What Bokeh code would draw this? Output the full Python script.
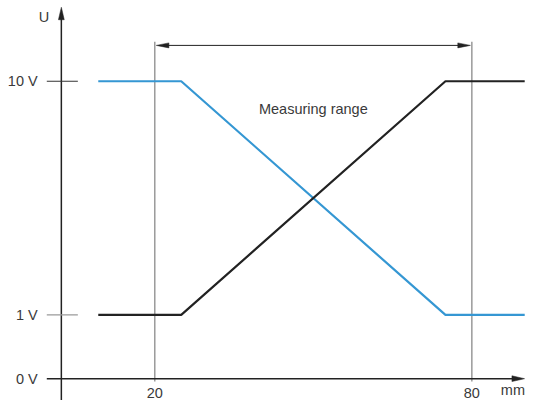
from bokeh.plotting import figure
from bokeh.models import Range1d
from bokeh.core.properties import value
from bokeh.embed import file_html
from bokeh.resources import INLINE

# ---- data ----
position_mm = [9.3, 25, 75, 90]
rising_v = [1, 1, 10, 10]
falling_v = [10, 10, 1, 1]
range_mm = [20, 80]
range_label = "Measuring range"
y_tick_v = [0, 1, 10]
y_tick_labels = ["0 V", "1 V", "10 V"]
x_tick_mm = [20, 80]
x_tick_labels = ["20", "80"]
x_unit = "mm"
y_unit = "U"

# ---- layout / scale (reference drawn at 542x416, scaled into 526x400) ----
W, H = 526, 400
REF_W, REF_H = 542, 416
KX, KY = W / REF_W, H / REF_H
PX_X = 5.445          # reference px per mm
PX_Y = 27.0           # reference px per volt (above axis break)
BREAK = 66.3 / 27.0   # axis break: 0 V .. 1 V span in volt-units


def ypos(v):
    return v if v >= 1 else 1 - (1 - v) * BREAK


def dx(px):
    return px / PX_X


def dy(px):
    return px / PX_Y


x0 = 20 - dx(159)
x1 = x0 + dx(REF_W)
y1 = 10 + dy(84)
y0 = y1 - dy(REF_H)

AX = 20 - dx(96.3)          # x where the vertical axis sits
AY = ypos(0)                # y where the horizontal axis sits

BLUE = "#3597d3"
DARK = "#222222"
GRAY = "#8a8a8a"
TXT = "#3a3a3a"
FONT = value("Liberation Sans")
FS = "14.5px"

p = figure(width=W, height=H, x_range=Range1d(x0, x1), y_range=Range1d(y0, y1),
           output_backend="svg", toolbar_location=None, min_border=0,
           x_axis_type=None, y_axis_type=None, outline_line_color=None,
           background_fill_color="white", border_fill_color="white")
p.grid.visible = False

# measuring range boundary lines
top_r = 10 + dy(41)
for xm in range_mm:
    p.line([xm, xm], [AY - dy(3), top_r], line_color=GRAY, line_width=1.3)

# measuring range double arrow
ya = 10 + dy(37.3)
p.line([range_mm[0] + dx(8), range_mm[1] - dx(8)], [ya, ya], line_color=DARK, line_width=1.0)
lt = range_mm[0] + dx(1.5)
rt = range_mm[1] - dx(1.5)
p.patches(
    [[lt, lt + dx(13), lt + dx(13)], [rt, rt - dx(13), rt - dx(13)]],
    [[ya, ya + dy(2.6), ya - dy(2.6)], [ya, ya + dy(2.6), ya - dy(2.6)]],
    fill_color=DARK, line_color=DARK, line_width=0.5)
p.text(x=[sum(range_mm) / 2], y=[10 - dy(29.3)], text=[range_label],
       text_align="center", text_baseline="middle", text_font=FONT,
       text_font_size=FS, text_color=TXT)

# axes
ytip = y1 - dy(7)
p.line([AX, AX], [y0, ytip - dy(10)], line_color=DARK, line_width=1.5)
p.patch([AX - dx(3), AX, AX + dx(3)], [ytip - dy(13), ytip, ytip - dy(13)],
        fill_color=DARK, line_color=DARK, line_width=0.5)
xtip = x1 - dx(2)
p.line([AX - dx(15), xtip - dx(10)], [AY, AY], line_color=DARK, line_width=1.5)
p.patch([xtip - dx(13), xtip, xtip - dx(13)], [AY + dy(3), AY, AY - dy(3)],
        fill_color=DARK, line_color=DARK, line_width=0.5)

# y ticks
for v, c in zip(y_tick_v[1:], ["#9a9a9a", "#333333"]):
    p.line([AX - dx(15), AX + dx(17)], [ypos(v), ypos(v)], line_color=c, line_width=1.2)

p.text(x=[AX] * len(y_tick_v), y=[ypos(v) for v in y_tick_v], text=y_tick_labels,
       x_offset=-24.4 * KX, text_align="right", text_baseline="middle",
       text_font=FONT, text_font_size=FS, text_color=TXT)
p.text(x=[AX - dx(18)], y=[y1 - dy(17)], text=[y_unit], text_align="center",
       text_baseline="middle", text_font=FONT, text_font_size=FS, text_color=TXT)

# x tick labels + unit, all on one baseline near the bottom edge
p.text(x=x_tick_mm + [x1 - dx(14)], y=[y0] * (len(x_tick_mm) + 1),
       text=x_tick_labels + [x_unit], y_offset=-3,
       text_align="center", text_baseline="bottom", text_font=FONT,
       text_font_size=FS, text_color=TXT)

# signal lines
p.line(position_mm, [ypos(v) for v in falling_v], line_color=BLUE, line_width=2.2)
p.line(position_mm, [ypos(v) for v in rising_v], line_color=DARK, line_width=2.2)

open("out.html", "w").write(file_html(p, INLINE))
